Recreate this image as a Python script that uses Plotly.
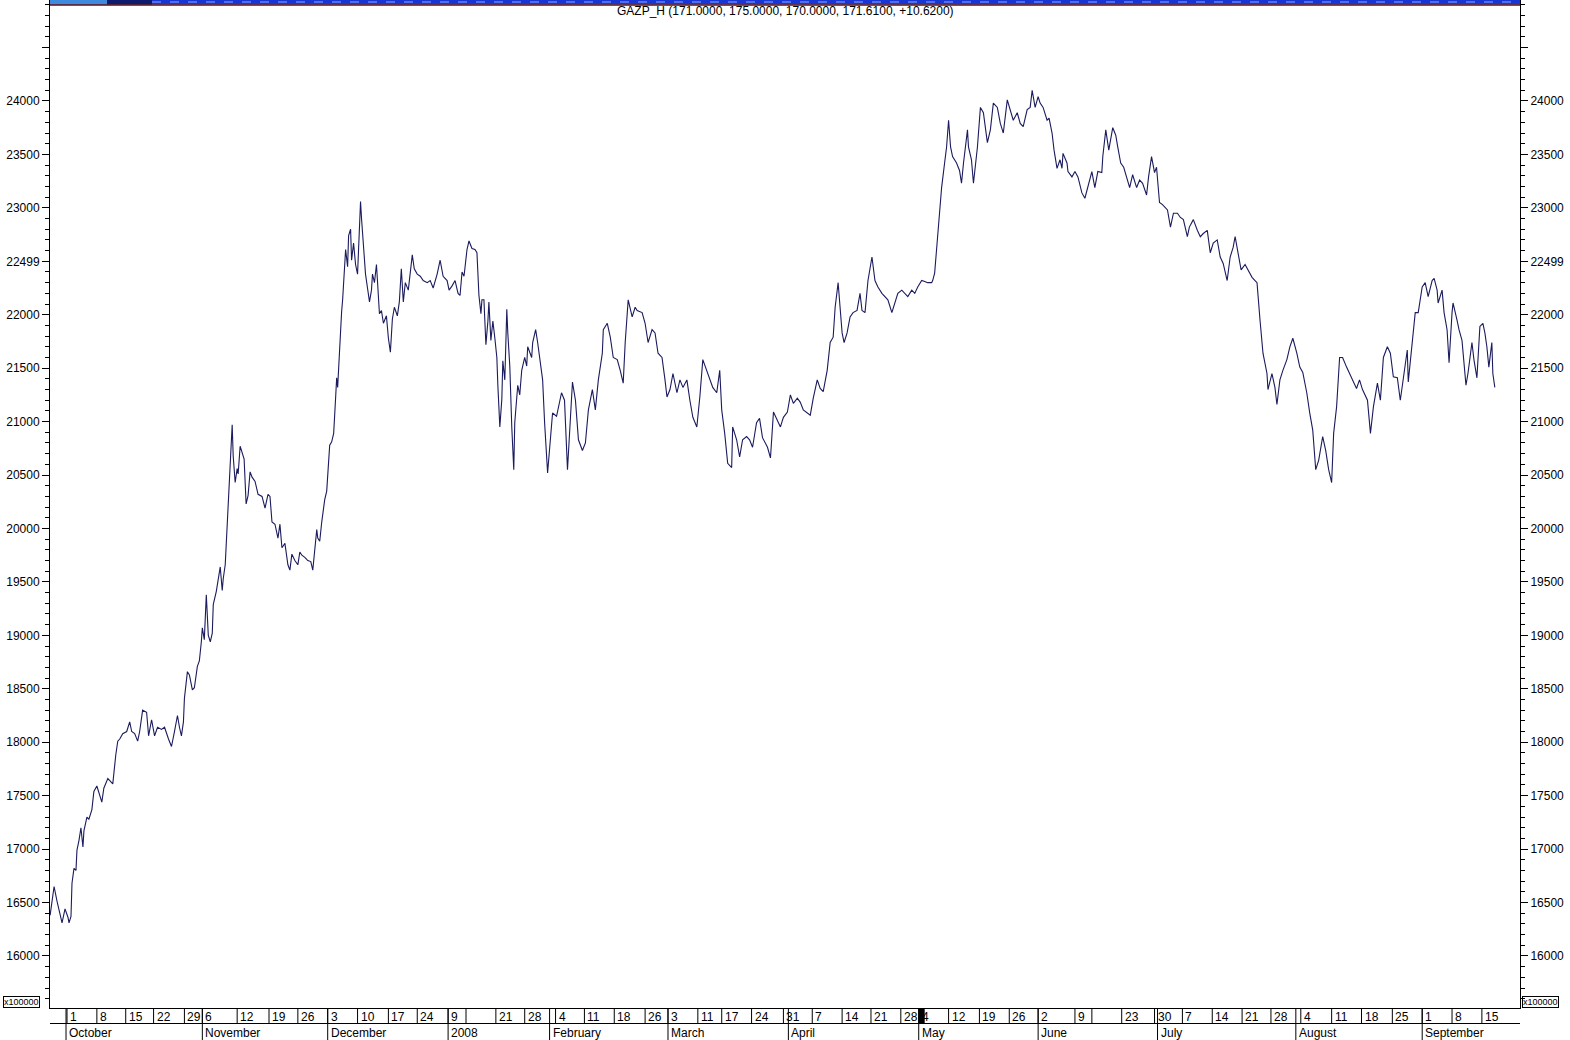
import plotly.graph_objects as go

# ---------------- data ----------------
# x: bar number (6 bars per trading session, 0 = 1 October 2007); y: price (x100000)
bar_index = [
    -17, -13, -10, -7, -5, -2, 1, 2, 4, 5, 7, 9, 10, 12, 14, 16, 17, 20, 22, 25, 27, 30, 32, 35, 37, 41, 43, 46, 49, 51,
    53, 56, 60, 63, 65, 68, 71, 73, 76, 80, 82, 85, 88, 91, 95, 98, 102, 105, 108, 111, 113, 115, 117, 118, 121, 123,
    126, 128, 131, 133, 135, 136, 138, 140, 142, 144, 146, 147, 150, 152, 154, 156, 157, 159, 161, 162, 164, 166, 167,
    169, 171, 172, 174, 176, 178, 180, 182, 184, 186, 189, 192, 196, 199, 202, 204, 206, 209, 212, 214, 216, 219, 222,
    224, 226, 229, 232, 234, 236, 239, 242, 245, 247, 249, 251, 252, 254, 256, 259, 261, 262, 264, 266, 268, 270, 271,
    272, 274, 276, 277, 279, 280, 282, 283, 285, 286, 288, 290, 292, 293, 295, 296, 298, 300, 302, 304, 306, 307, 309,
    311, 312, 314, 316, 318, 321, 323, 325, 327, 329, 332, 334, 336, 338, 340, 343, 345, 347, 349, 352, 355, 358, 362,
    365, 368, 372, 375, 378, 382, 384, 387, 390, 393, 395, 397, 399, 402, 404, 407, 410, 412, 414, 416, 417, 419, 421,
    423, 424, 426, 428, 430, 432, 433, 435, 437, 438, 440, 442, 443, 445, 447, 449, 450, 453, 455, 457, 460, 462, 463,
    467, 468, 471, 473, 476, 478, 480,
    483, 488, 492, 497, 500, 503, 508, 511, 514, 518, 521, 524, 528, 531, 534, 538, 539, 543, 546, 549, 553, 556, 559,
    561, 564, 568, 571, 573, 578, 581, 584, 588, 591, 594, 598, 601, 603, 606, 609, 613, 616, 619, 623, 626, 629, 633,
    636, 639, 643, 646, 649, 653, 656, 658, 661, 664, 668, 669, 673, 676, 679, 683, 686, 689, 693, 696, 699, 704, 707,
    710, 714, 717, 720, 724, 727, 730, 734, 737, 740, 744, 747, 750, 754, 757, 760, 764, 767, 770, 772, 775, 777, 779,
    781, 784, 787, 790, 794, 797, 799, 802, 805, 809, 812, 815, 819, 822, 825, 829, 832, 835, 839, 842, 845, 849, 852,
    855, 859, 862, 865, 869, 870, 872, 875, 877, 879, 882, 884, 886, 888, 890, 894, 897, 899, 901, 905, 906, 909, 911,
    915, 918, 921, 925, 928, 931, 935, 938, 941, 945, 948, 951, 955, 958, 961, 965, 968, 970, 973, 976,
    978, 981, 985, 987, 990, 992, 995, 998, 1000, 1001, 1005, 1006, 1010, 1013, 1016, 1020, 1023, 1026, 1030, 1033,
    1036, 1040, 1041, 1044, 1047, 1051, 1054, 1056, 1059, 1062, 1065, 1068, 1071, 1075, 1078, 1081, 1085, 1087, 1090,
    1093, 1095, 1098, 1101, 1106, 1109, 1112, 1116, 1119, 1122, 1126, 1128, 1132, 1136, 1139, 1142, 1146, 1149, 1152,
    1156, 1159, 1162, 1166, 1169, 1172, 1174, 1177, 1180, 1184, 1187, 1191, 1194, 1196, 1199, 1202, 1206, 1207, 1211,
    1214, 1216, 1219, 1222, 1226, 1229, 1232, 1236, 1239, 1242, 1246, 1249, 1252, 1255, 1258, 1262, 1265, 1268, 1271,
    1273, 1276, 1279, 1282, 1286, 1289, 1292, 1296, 1299, 1302, 1307, 1310, 1313, 1317, 1320, 1323, 1327, 1330, 1333,
    1337, 1340, 1343, 1347, 1348, 1352, 1355, 1358, 1362, 1365, 1368, 1372, 1374, 1377, 1378, 1382, 1384, 1387, 1389,
    1392, 1393, 1397, 1399, 1402, 1404, 1406, 1408, 1412, 1414, 1417, 1420, 1423, 1425, 1427, 1429, 1432, 1433, 1435,
]
price = [
    16380, 16650, 16510, 16400, 16310, 16440, 16360, 16310, 16370, 16680, 16820, 16800, 16990, 17080, 17200, 17020,
    17170, 17300, 17280, 17370, 17540, 17590, 17520, 17440, 17570, 17660, 17640, 17610, 17880, 18010, 18030, 18080,
    18100, 18190, 18100, 18080, 18010, 18100, 18300, 18280, 18060, 18210, 18060, 18140, 18120, 18140, 18030, 17960,
    18100, 18250, 18140, 18060, 18190, 18410, 18660, 18630, 18490, 18510, 18710, 18760, 18940, 19070, 18960, 19380,
    19000, 18940, 19020, 19290, 19410, 19510, 19640, 19420, 19530, 19660, 20060, 20320, 20580, 20970, 20680, 20430,
    20560, 20510, 20770, 20710, 20650, 20230, 20310, 20530, 20480, 20440, 20320, 20300, 20190, 20320, 20300, 20060,
    20040, 19910, 20040, 19820, 19860, 19660, 19610, 19760, 19700, 19660, 19780, 19750, 19730, 19700, 19690, 19610,
    19820, 19990, 19910, 19880, 20060, 20270, 20350, 20500, 20780, 20810, 20890, 21230, 21410, 21320, 21720, 22030,
    22140, 22510, 22610, 22450, 22740, 22800, 22510, 22670, 22470, 22380, 22610, 23060, 22900, 22640, 22380, 22250,
    22120, 22230, 22380, 22300, 22470, 22320, 22010, 22040, 21920, 21990, 21780, 21650, 21960, 22070, 21990, 22120,
    22430, 22120, 22300, 22230, 22430, 22560, 22430, 22380, 22360, 22320, 22300, 22320, 22250, 22380, 22510, 22360,
    22320, 22230, 22270, 22320, 22200, 22180, 22400, 22360, 22610, 22690, 22620, 22610, 22580, 22180, 22010, 22140,
    22140, 21720, 21940, 22120, 21760, 21940, 21780, 21600, 21340, 20950, 21210, 21570, 21390, 22050, 21830, 21520,
    20950, 20550, 20990, 21340, 21250, 21480, 21600, 21520, 21700, 21600, 21740, 21860, 21740, 21550, 21390, 20990,
    20520, 21080, 21050, 21270, 21200, 20550, 21370, 21200, 20830, 20730, 20800, 21110, 21300, 21110, 21390, 21640,
    21860, 21920, 21790, 21600, 21580, 21480, 21360, 21740, 22140, 21980, 22070, 22040, 22020, 21920, 21740, 21860,
    21830, 21640, 21600, 21390, 21230, 21300, 21450, 21270, 21390, 21320, 21390, 21200, 21040, 20950, 21230, 21580,
    21480, 21390, 21320, 21270, 21480, 21110, 20890, 20610, 20570, 20950, 20830, 20670, 20830, 20860, 20830, 20760,
    20990, 21030, 20850, 20760, 20660, 21090, 21010, 20950, 21040, 21090, 21250, 21170, 21220, 21180, 21110, 21080,
    21060, 21220, 21390, 21310, 21280, 21480, 21740, 21790, 22070, 22300, 22020, 21830, 21740, 21830, 21980, 22020,
    22040, 22200, 22040, 22020, 22320, 22540, 22320, 22260, 22200, 22170, 22140, 22020, 22110, 22200, 22230, 22200,
    22170, 22230, 22200, 22260, 22320, 22310, 22300, 22300, 22320, 22390, 22730, 22950, 23190, 23420, 23570, 23820,
    23570, 23480, 23420, 23350, 23230, 23420, 23730, 23570, 23450, 23230, 23570, 23940, 23890, 23610, 23730, 23980,
    23940, 23790, 23700, 24010, 23920, 23820, 23890, 23790, 23760, 23920, 23940, 24100, 23940, 24040,
    23980, 23940, 23820, 23840, 23700, 23540, 23370, 23450, 23370, 23510, 23420, 23340, 23290, 23340, 23290, 23140,
    23090, 23190, 23340, 23190, 23340, 23330, 23480, 23730, 23540, 23750, 23680, 23570, 23420, 23380, 23290, 23190,
    23310, 23190, 23260, 23230, 23120, 23290, 23480, 23330, 23380, 23050, 23030, 22980, 22820, 22950, 22950, 22910,
    22890, 22730, 22820, 22890, 22790, 22730, 22760, 22790, 22580, 22670, 22700, 22540, 22480, 22320, 22540, 22630,
    22730, 22580, 22420, 22470, 22420, 22350, 22320, 22300, 21950, 21640, 21450, 21300, 21450, 21320, 21160, 21390,
    21480, 21580, 21700, 21780, 21640, 21510, 21460, 21270, 21080, 20920, 20550, 20640, 20860, 20730, 20550, 20430,
    20890, 21140, 21600, 21600, 21510, 21450, 21390, 21310, 21390, 21300, 21200, 20890, 21140, 21360, 21200, 21600,
    21700, 21640, 21420, 21410, 21200, 21390, 21670, 21370, 21740, 22020, 22020, 22260, 22300, 22170, 22320, 22340,
    22230, 22110, 22230, 22020, 21860, 21550, 22020, 22110, 21950, 21860, 21760, 21550, 21340, 21450, 21740, 21580,
    21410, 21890, 21920, 21830, 21700, 21510, 21740, 21450, 21320,
]

title_text = "GAZP_H (171.0000, 175.0000, 170.0000, 171.6100, +10.6200)"

y_tick_values = [16000, 16500, 17000, 17500, 18000, 18500, 19000, 19500, 20000, 20500,
                 21000, 21500, 22000, 22500, 23000, 23500, 24000, 24500]
y_tick_labels = ["16000", "16500", "17000", "17500", "18000", "18500", "19000", "19500", "20000", "20500",
                 "21000", "21500", "22000", "22499", "23000", "23500", "24000", ""]

day_labels = ["1", "8", "15", "22", "29", "6", "12", "19", "26", "3", "10", "17", "24", "9", "", "21", "28",
              "4", "11", "18", "26", "3", "11", "17", "24", "31", "7", "14", "21", "28", "4", "12", "19", "26",
              "2", "9", "", "23", "30", "7", "14", "21", "28", "4", "11", "18", "25", "1", "8", "15"]
day_bars = [0, 30, 59, 87, 118, 136, 171, 203, 232, 262, 292, 323, 352, 383, 401, 431, 460,
            491, 520, 550, 581, 604, 634, 658, 688, 720, 749, 779, 808, 838, 856, 886, 917, 947,
            976, 1013, 1030, 1060, 1093, 1121, 1151, 1181, 1210, 1240, 1271, 1301, 1332, 1362, 1392, 1422]

month_labels = ["October", "November", "December", "2008", "February", "March", "April", "May",
                "June", "July", "August", "September"]
month_bars = [-1, 136, 262, 383, 485, 604, 725, 856, 976, 1096, 1235, 1362]

cursor_bars = [856, 862]          # highlighted session on the time scale

# ---------------- figure ----------------
W, H = 1570, 1040
ML, MR, MT, MB = 50, 50, 0, 32
PH = H - MT - MB
FONT = "Liberation Sans, Arial, sans-serif"
LINE_COLOR = "#1b1b5e"


def py(pixels_below_plot):
    """paper-y for a distance (px) below the bottom of the plot area"""
    return -pixels_below_plot / PH


fig = go.Figure()
fig.add_trace(go.Scatter(x=bar_index, y=price, mode="lines",
                         line=dict(color=LINE_COLOR, width=1.1),
                         hoverinfo="skip", showlegend=False))
fig.add_trace(go.Scatter(x=bar_index, y=price, mode="none", yaxis="y2",
                         hoverinfo="skip", showlegend=False))

y_range = [15513, 24945]
yax = dict(range=y_range, tickmode="array", tickvals=y_tick_values, ticktext=y_tick_labels,
           ticks="outside", ticklen=7, tickwidth=1, tickcolor="black",
           minor=dict(tickmode="linear", tick0=0, dtick=100, ticks="outside", ticklen=4,
                      tickwidth=1, tickcolor="black", showgrid=False),
           showline=True, linecolor="black", linewidth=1, showgrid=False, zeroline=False,
           tickfont=dict(family=FONT, size=12, color="black"), fixedrange=True)

fig.update_layout(
    width=W, height=H,
    margin=dict(l=ML, r=MR, t=MT, b=MB, pad=0),
    paper_bgcolor="white", plot_bgcolor="white",
    showlegend=False,
    xaxis=dict(range=[-17.1, 1460.3], showline=True, linecolor="black", linewidth=1,
               showgrid=False, zeroline=False, showticklabels=False, ticks="", fixedrange=True),
    yaxis=dict(**yax, side="left"),
    yaxis2=dict(**yax, side="right", overlaying="y", anchor="x"),
)

shapes = []
annotations = []

# top status band
top = 1.0
band_bottom = 1 - 4.5 / PH
shapes.append(dict(type="rect", xref="paper", yref="paper", x0=0, x1=1, y0=band_bottom, y1=top,
                   fillcolor="#1836d4", line=dict(width=0), layer="above"))
shapes.append(dict(type="rect", xref="paper", yref="paper", x0=0, x1=57 / 1470, y0=band_bottom, y1=top,
                   fillcolor="#3d8ade", line=dict(width=0), layer="above"))
shapes.append(dict(type="rect", xref="paper", yref="paper", x0=57 / 1470, x1=102 / 1470, y0=band_bottom, y1=top,
                   fillcolor="#0d1a6e", line=dict(width=0), layer="above"))
shapes.append(dict(type="line", xref="paper", yref="paper", x0=102 / 1470, x1=1, y0=1 - 2 / PH, y1=1 - 2 / PH,
                   line=dict(color="#8aa8ff", width=1, dash="dash"), layer="above"))
shapes.append(dict(type="line", xref="paper", yref="paper", x0=0, x1=1, y0=1 - 5 / PH, y1=1 - 5 / PH,
                   line=dict(color="#5a0c12", width=1.5), layer="above"))

# time scale: rows and separators
shapes.append(dict(type="line", xref="paper", yref="paper", x0=0, x1=1, y0=py(15.5), y1=py(15.5),
                   line=dict(color="black", width=1)))
for b in day_bars:
    shapes.append(dict(type="line", xref="x", yref="paper", x0=b, x1=b, y0=0, y1=py(15.5),
                       line=dict(color="black", width=1)))
for b in month_bars:
    shapes.append(dict(type="line", xref="x", yref="paper", x0=b, x1=b, y0=0, y1=py(32),
                       line=dict(color="black", width=1)))
shapes.append(dict(type="rect", xref="x", yref="paper", x0=cursor_bars[0], x1=cursor_bars[1],
                   y0=0, y1=py(15), fillcolor="black", line=dict(width=0)))

for b, t in zip(day_bars, day_labels):
    if t:
        annotations.append(dict(x=b, y=py(8.5), xref="x", yref="paper", text=t, showarrow=False,
                                xanchor="left", yanchor="middle", xshift=1,
                                font=dict(family=FONT, size=12, color="black")))
for b, t in zip(month_bars, month_labels):
    annotations.append(dict(x=b, y=py(24.5), xref="x", yref="paper", text=t, showarrow=False,
                            xanchor="left", yanchor="middle", xshift=1,
                            font=dict(family=FONT, size=12, color="black")))

# title
annotations.append(dict(x=0.5, y=1 - 11.5 / PH, xref="paper", yref="paper", text=title_text,
                        showarrow=False, xanchor="center", yanchor="middle",
                        font=dict(family=FONT, size=12, color="black")))

# multiplier boxes
for xp in (-47 / 1470, 1472 / 1470):
    annotations.append(dict(x=xp, y=6 / PH, xref="paper", yref="paper", text="x100000",
                            showarrow=False, xanchor="left", yanchor="middle",
                            bordercolor="black", borderwidth=1, borderpad=0,
                            font=dict(family=FONT, size=9, color="black")))

fig.update_layout(shapes=shapes, annotations=annotations)
fig.write_html("out.html", config={"displayModeBar": False},
               post_script="document.body.style.margin='0';document.body.style.padding='0';")
